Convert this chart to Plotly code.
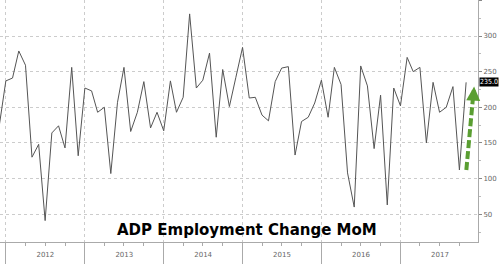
import pandas as pd
import plotly.graph_objects as go

# ---- data ----
start_month = "2011-12-01"
adp_values = [173, 237, 241, 279, 259, 130, 148, 41, 164, 174, 143, 256,
              132, 227, 223, 193, 200, 107, 207, 256, 166, 193, 236, 171,
              193, 167, 237, 193, 214, 331, 227, 238, 276, 158, 253, 201,
              242, 284, 213, 214, 189, 181, 236, 255, 257, 133, 180, 186,
              206, 238, 186, 256, 232, 108, 60, 258, 230, 142, 217, 63,
              227, 202, 270, 250, 256, 150, 235, 193, 200, 229, 112, 235]
y_ticks = [50, 100, 150, 200, 250, 300, 350]
title_text = "ADP Employment Change MoM"

dates = pd.date_range(start_month, periods=len(adp_values), freq="MS")
last_val = adp_values[-1]
prev_val = adp_values[-2]
x_range = ["2011-12-05", "2017-12-26"]

fig = go.Figure()
fig.add_trace(go.Scatter(x=dates, y=adp_values, mode="lines",
                         line=dict(color="#555555", width=1), hoverinfo="skip"))

# green dashed arrow showing the rebound
arrow_x = [dates[-1] + pd.Timedelta(days=1), dates[-1] + pd.Timedelta(days=34)]
arrow_y = [prev_val, last_val - 14]
fig.add_trace(go.Scatter(x=arrow_x, y=arrow_y, mode="lines",
                         line=dict(color="#5a9e32", width=4, dash="8px,3px"), hoverinfo="skip"))
# invisible trace on the overlay axis so its long year ticks render
fig.add_trace(go.Scatter(x=[dates[0]], y=[adp_values[0]], xaxis="x2", mode="markers",
                         marker=dict(opacity=0), hoverinfo="skip"))

annotations = [
    dict(text="<b>" + title_text + "</b>", xref="paper", yref="paper",
         x=246.5 / 478, y=0.005, xanchor="center", yanchor="bottom", showarrow=False,
         font=dict(family="DejaVu Sans", size=15, color="black")),
    dict(text="%.1f" % last_val, xref="paper", yref="y", x=1.0, y=last_val,
         xanchor="left", yanchor="middle", xshift=1, showarrow=False,
         bgcolor="black", font=dict(family="DejaVu Sans Condensed", size=7, color="white"),
         borderpad=0),
    # arrow head
    dict(x=dates[-1] + pd.Timedelta(days=37), y=last_val - 6, xref="x", yref="y",
         ax=arrow_x[1], ay=arrow_y[1] - 6, axref="x", ayref="y",
         showarrow=True, arrowhead=2, arrowsize=0.7, arrowwidth=4,
         arrowcolor="#5a9e32", text=""),
]

fig.update_layout(
    width=500, height=264,
    margin=dict(l=0, r=22, t=0, b=22),
    paper_bgcolor="white", plot_bgcolor="white",
    showlegend=False,
    font=dict(family="DejaVu Sans", size=7, color="#555555"),
    xaxis=dict(
        range=x_range,
        tick0="2012-01-01", dtick="M12", tickformat="%Y",
        ticklabelmode="period",
        ticks="outside", ticklen=6, tickcolor="#aaaaaa", tickwidth=1,
        showgrid=True, gridcolor="#cccccc", griddash="dot", gridwidth=1,
        showline=True, linecolor="#aaaaaa", linewidth=1,
        minor=dict(dtick="M3", ticks="outside", ticklen=3, tickcolor="#aaaaaa", showgrid=False),
        tickfont=dict(size=7, color="#666666"),
        zeroline=False,
    ),
    xaxis2=dict(
        range=x_range, overlaying="x", anchor="y", side="bottom",
        tick0="2012-01-01", dtick="M12", showticklabels=False,
        ticks="outside", ticklen=22, tickcolor="#aaaaaa", tickwidth=1,
        showgrid=False, showline=False, zeroline=False,
    ),
    yaxis=dict(
        side="right", range=[11, 350.5],
        tickvals=y_ticks, ticks="outside", ticklen=3, tickcolor="#888888",
        showgrid=True, gridcolor="#cccccc", griddash="dot", gridwidth=1,
        showline=True, linecolor="#aaaaaa", linewidth=1,
        minor=dict(dtick=25, ticks="outside", ticklen=2, tickcolor="#bbbbbb", showgrid=False),
        tickfont=dict(size=7, color="#666666"),
        zeroline=False,
    ),
    annotations=annotations,
)

fig.write_html("out.html")
